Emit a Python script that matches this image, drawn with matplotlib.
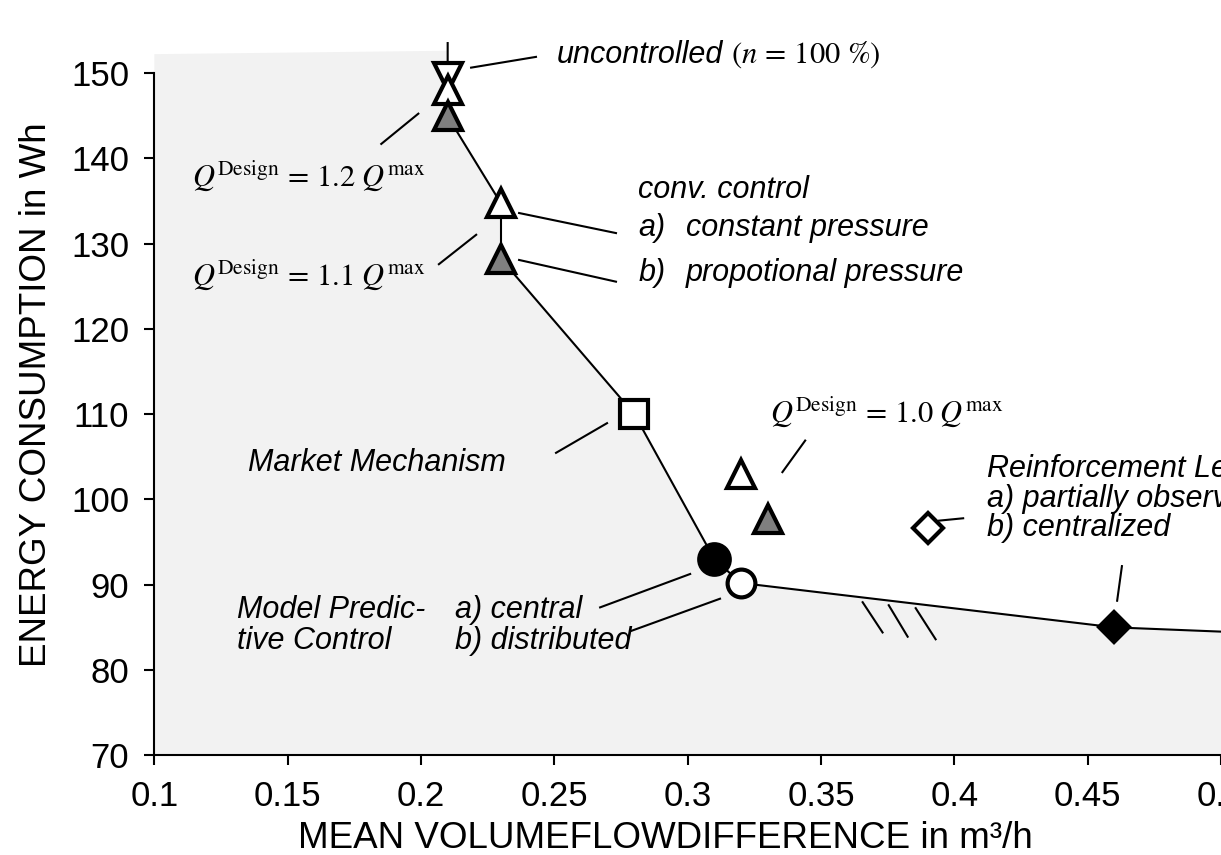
import numpy as np
import matplotlib
matplotlib.use('Agg')
import matplotlib.pyplot as plt

plt.rcParams['font.family'] = ['Liberation Sans', 'DejaVu Sans']
plt.rcParams['mathtext.fontset'] = 'stix'

# Pareto front of energy vs. mean volume flow difference
front_x = [0.21, 0.21, 0.23, 0.23, 0.28, 0.31, 0.32, 0.46, 0.50]
front_y = [153.5, 144.9, 134.7, 128.2, 110.0, 93.0, 90.2, 85.0, 84.5]

# upper edge of the shaded (dominated) area
shade_top_x = [0.10, 0.21]
shade_top_y = [152.2, 152.6]

# conventional control for Q_design = 1.2 / 1.1 / 1.0 Q_max
const_x = [0.21, 0.23, 0.32]
const_y = [148.0, 134.7, 103.0]
prop_x = [0.21, 0.23, 0.33]
prop_y = [144.9, 128.2, 97.7]

uncontrolled_x, uncontrolled_y = 0.21, 149.5
market_x, market_y = 0.28, 110.0
mpc_x = [0.31, 0.32]      # central, distributed
mpc_y = [93.0, 90.2]
rl_x = [0.39, 0.46]       # partially observable, centralized
rl_y = [96.7, 85.0]

x_ticks = [0.1, 0.15, 0.2, 0.25, 0.3, 0.35, 0.4, 0.45, 0.5]
x_ticklabels = ['0.1', '0.15', '0.2', '0.25', '0.3', '0.35', '0.4', '0.45', '0.5']
y_ticks = [70, 80, 90, 100, 110, 120, 130, 140, 150]

# leader lines from labels to markers: (x0, x1), (y0, y1)
leaders = [
    ((0.2184, 0.2435), (150.6, 151.9)),   # uncontrolled
    ((0.1848, 0.1993), (141.6, 145.3)),   # 1.2 Qmax
    ((0.2364, 0.2735), (133.6, 131.2)),   # constant pressure
    ((0.2364, 0.2735), (128.1, 125.5)),   # proportional pressure
    ((0.2064, 0.2210), (127.5, 131.1)),   # 1.1 Qmax
    ((0.3353, 0.3443), (103.1, 107.0)),   # 1.0 Qmax
    ((0.2503, 0.2701), (105.4, 109.0)),   # market mechanism
    ((0.2668, 0.3013), (87.3, 91.3)),     # MPC central
    ((0.2781, 0.3125), (84.5, 88.4)),     # MPC distributed
    ((0.3939, 0.4037), (97.5, 97.8)),     # RL partially observable
    ((0.4610, 0.4629), (88.0, 92.3)),     # RL centralized
]
# break marks on the front
hatches = [
    ((0.3654, 0.3733), (88.05, 84.3)),
    ((0.3752, 0.3827), (87.7, 83.8)),
    ((0.3853, 0.3932), (87.35, 83.5)),
]

fig = plt.figure(figsize=(12.21, 8.55), dpi=100)
ax = fig.add_axes([0.1264, 0.1166, 0.8736, 0.843])

# shaded area below the front
poly_x = shade_top_x + front_x[1:] + [0.5, 0.1]
poly_y = shade_top_y + front_y[1:] + [70, 70]
ax.fill(poly_x, poly_y, color='#f2f2f2', lw=0, zorder=0)

ax.plot(front_x, front_y, color='black', lw=1.5, zorder=2)
for xs, ys in leaders + hatches:
    ax.plot(xs, ys, color='black', lw=1.5, zorder=2, solid_capstyle='butt')

mk = dict(linestyle='none', markeredgecolor='black', markeredgewidth=3, zorder=4)
ax.plot(uncontrolled_x, uncontrolled_y, marker='v', markersize=20, markerfacecolor='white', **mk)
ax.plot(const_x, const_y, marker='^', markersize=20, markerfacecolor='white', **mk)
ax.plot(prop_x, prop_y, marker='^', markersize=20, markerfacecolor='#7f7f7f', **mk)
ax.plot(market_x, market_y, marker='s', markersize=20, markerfacecolor='white', **mk)
ax.plot(mpc_x[0], mpc_y[0], marker='o', markersize=22, markerfacecolor='black', **mk)
ax.plot(mpc_x[1], mpc_y[1], marker='o', markersize=20, markerfacecolor='white', **mk)
ax.plot(rl_x[0], rl_y[0], marker='D', markersize=15, markerfacecolor='white', **mk)
ax.plot(rl_x[1], rl_y[1], marker='D', markersize=15, markerfacecolor='black', **mk)

# labels
it = dict(fontsize=22, style='italic', va='center', ha='left')
mt = dict(fontsize=22, va='center', ha='left')
q_fmt = r'$Q^{\mathrm{Design}}\,=\,%s\ Q^{\mathrm{max}}$'
t = ax.text(0.2510, 152.1, 'uncontrolled', **it)
ax.annotate(r' $(n\,=\,100\ \%)$', xy=(1, 0.5), xycoords=t, va='center', ha='left', fontsize=22)
ax.text(0.1141, 138.0, q_fmt % '1.2', **mt)
ax.text(0.1141, 126.3, q_fmt % '1.1', **mt)
ax.text(0.3309, 110.3, q_fmt % '1.0', **mt)
ax.text(0.2814, 136.3, 'conv. control', **it)
ax.text(0.2814, 131.8, 'a)', **it)
ax.text(0.2994, 131.8, 'constant pressure', **it)
ax.text(0.2814, 126.6, 'b)', **it)
ax.text(0.2994, 126.6, 'propotional pressure', **it)
ax.text(0.1352, 104.3, 'Market Mechanism', **it)
ax.text(0.1310, 87.0, 'Model Predic-', **it)
ax.text(0.1310, 83.4, 'tive Control', **it)
ax.text(0.2127, 87.0, 'a) central', **it)
ax.text(0.2127, 83.4, 'b) distributed', **it)
ax.text(0.4122, 103.6, 'Reinforcement Learning', **it)
ax.text(0.4122, 100.1, 'a) partially observable', **it)
ax.text(0.4122, 96.6, 'b) centralized', **it)

ax.set_xlim(0.1, 0.5)
ax.set_ylim(70, 154.5)
ax.set_xticks(x_ticks)
ax.set_xticklabels(x_ticklabels)
ax.set_yticks(y_ticks)
ax.spines['top'].set_visible(False)
ax.spines['right'].set_visible(False)
ax.spines['left'].set_bounds(70, 150)
for s in ('left', 'bottom'):
    ax.spines[s].set_linewidth(1.5)
ax.tick_params(direction='out', length=7, width=1.5, labelsize=25, pad=11)
ax.patch.set_alpha(0)

ax.set_xlabel('MEAN VOLUMEFLOWDIFFERENCE in m³/h', fontsize=26.5)
ax.set_ylabel('ENERGY CONSUMPTION in Wh', fontsize=26.5)
ax.xaxis.set_label_coords(0.479, -0.091)
ax.yaxis.set_label_coords(-0.094, 0.5)

fig.savefig('out.png', dpi=100)
